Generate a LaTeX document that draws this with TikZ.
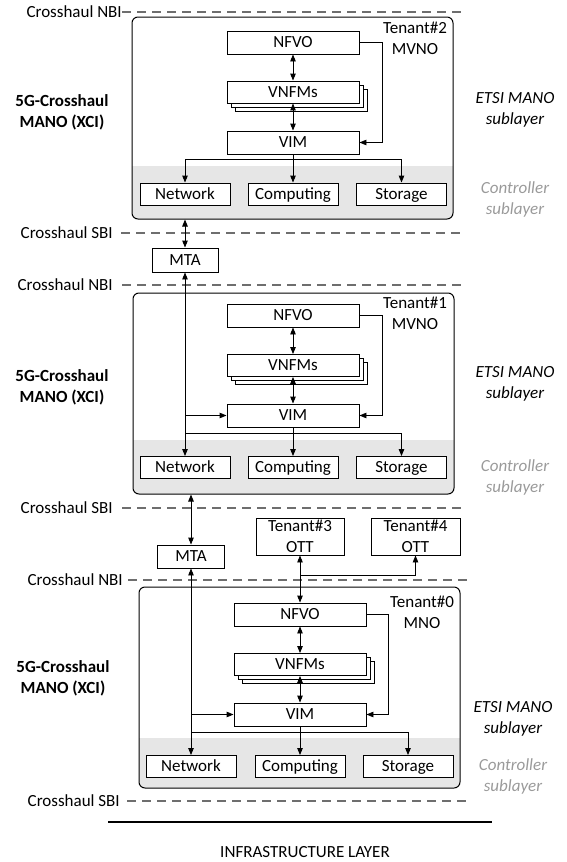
\documentclass[tikz,border=0pt]{standalone}
\usepackage{fontspec}
\setmainfont{Carlito}
\usetikzlibrary{arrows.meta,calc}
\definecolor{ctrlgray}{HTML}{E6E6E6}
\definecolor{dashgray}{HTML}{6E6E6E}
\definecolor{subgray}{HTML}{9A9A9A}
\newcommand\fs{\fontsize{17}{21}\selectfont}
\tikzset{
 blk/.style={draw, fill=white, line width=0.9pt, inner sep=0pt, minimum width=132pt, minimum height=23pt, text height=10.5pt, text depth=0pt},
 sbox/.style={draw, fill=white, line width=0.9pt, inner sep=0pt, minimum width=90pt, minimum height=22pt, text height=10.5pt, text depth=0pt},
 tbox/.style={draw, fill=white, line width=0.9pt, inner sep=0pt, align=center, minimum height=37pt},
 stackbox/.style={draw, fill=white, line width=0.9pt},
 outerbox/.style={draw, line width=1pt, rounded corners=6pt, inner sep=0pt, minimum width=321pt},
 dline/.style={draw=dashgray, line width=1.1pt, dash pattern=on 9pt off 6pt},
 conn/.style={line width=0.9pt, -{Triangle[length=7pt,width=5.5pt]}},
 dconn/.style={line width=0.9pt, {Triangle[length=7pt,width=5.5pt]}-{Triangle[length=7pt,width=5.5pt]}},
 plain/.style={line width=0.9pt},
 lbl/.style={inner sep=0pt, anchor=east, text height=10.5pt, text depth=0pt},
 side/.style={align=center, inner sep=0pt},
 bsid/.style={side, font=\fs\bfseries},
 isid/.style={side, font=\fs\itshape},
 csid/.style={side, font=\fs\itshape, text=subgray},
}
\begin{document}
\begin{tikzpicture}[x=1pt,y=-1pt,font=\fs]
\useasboundingbox (0,0) rectangle (567,862);

% ---------------- Block 1 (Tenant#2) ----------------
\node[lbl] (nbi1) at (122,12) {Crosshaul NBI};
\coordinate (nbi1e) at (463,12);
\draw[dline] (nbi1.east) -- (nbi1e);

\begin{scope}
\clip[rounded corners=6pt] (132,17) rectangle (453,219);
\fill[ctrlgray] (132,166) rectangle (453,219);
\end{scope}
\node[outerbox, minimum height=202pt] (blk1) at (292.5,118) {};

\node[blk] (nfvo1) at (293,42.5) {NFVO};
\path[stackbox] (235,89) rectangle (367,111);
\path[stackbox] (231,85) rectangle (363,107);
\node[blk, minimum height=22pt] (vnfm1) at (293,92) {VNFMs};
\node[blk] (vim1) at (293,142.5) {VIM};
\node[sbox] (net1) at (185,194) {Network};
\node[sbox] (comp1) at (293,194) {Computing};
\node[sbox] (sto1) at (401.5,194) {Storage};

\draw[dconn] (nfvo1) -- (vnfm1);
\draw[dconn] (vnfm1) -- (vim1);
\draw[conn] (nfvo1.east) -- ++(23,0) |- (vim1.east);
\draw[conn] (vim1) -- (comp1);
\coordinate (br1) at (293,159);
\draw[conn] (br1) -| (net1.north);
\draw[conn] (br1) -| (sto1.north);

\node[side] (ten2) at (415,38.5) {Tenant\#2\\MVNO};
\node[bsid] (xci1) at (62,112.5) {5G-Crosshaul\\MANO (XCI)};
\node[isid] (etsi1) at (515,109.5) {ETSI MANO\\sublayer};
\node[csid] (ctl1) at (515,199) {Controller\\sublayer};

\node[lbl] (sbi1) at (113,233) {Crosshaul SBI};
\coordinate (sbi1e) at (463,233);
\draw[dline] ($(sbi1.east)+(8,0)$) -- (sbi1e);

\node[sbox, minimum width=66pt, minimum height=24pt] (mta1) at (185,260) {MTA};
\draw[dconn] (blk1.south -| mta1.north) -- (mta1.north);

\node[lbl] (nbi2) at (113,285) {Crosshaul NBI};
\coordinate (nbi2e) at (463,285);
\draw[dline] ($(nbi2.east)+(9,0)$) -- (nbi2e);

% ---------------- Block 2 (Tenant#1) ----------------
\begin{scope}
\clip[rounded corners=6pt] (133,293) rectangle (454,494);
\fill[ctrlgray] (133,440) rectangle (454,494);
\end{scope}
\node[outerbox, minimum height=201pt] (blk2) at (293.5,393.5) {};

\node[blk] (nfvo2) at (293,315.5) {NFVO};
\path[stackbox] (235,362.5) rectangle (367,384.5);
\path[stackbox] (231,358.5) rectangle (363,380.5);
\node[blk, minimum height=22pt] (vnfm2) at (293,365.5) {VNFMs};
\node[blk] (vim2) at (293,415.5) {VIM};
\node[sbox] (net2) at (185,467.5) {Network};
\node[sbox] (comp2) at (293,467.5) {Computing};
\node[sbox] (sto2) at (401.5,467.5) {Storage};

\draw[dconn] (nfvo2) -- (vnfm2);
\draw[dconn] (vnfm2) -- (vim2);
\draw[conn] (nfvo2.east) -- ++(23,0) |- (vim2.east);
\draw[conn] (vim2) -- (comp2);
\coordinate (br2) at (293,433);
\draw[conn] (br2) -| (sto2.north);
\draw[plain] (br2) -- (br2 -| net2.north);
\draw[dconn] (mta1.south) -- (net2.north);
\draw[conn] (mta1.south |- vim2.west) -- (vim2.west);

\node[side] (ten1) at (415,313) {Tenant\#1\\MVNO};
\node[bsid] (xci2) at (62,387.5) {5G-Crosshaul\\MANO (XCI)};
\node[isid] (etsi2) at (515,383.5) {ETSI MANO\\sublayer};
\node[csid] (ctl2) at (515,477.5) {Controller\\sublayer};

\node[lbl] (sbi2) at (113,508) {Crosshaul SBI};
\coordinate (sbi2e) at (462,508);
\draw[dline] ($(sbi2.east)+(9,0)$) -- (sbi2e);

\node[sbox, minimum width=67pt, minimum height=23pt] (mta2) at (191,556.5) {MTA};
\draw[dconn] (blk2.south -| mta2.north) -- (mta2.north);

\node[tbox, minimum width=88pt] (t3) at (300,536.5) {Tenant\#3\\OTT};
\node[tbox, minimum width=89pt] (t4) at (415.5,536.5) {Tenant\#4\\OTT};

\node[lbl] (nbi3) at (123,580) {Crosshaul NBI};
\coordinate (nbi3e) at (467,580);
\draw[dline] ($(nbi3.east)+(5,0)$) -- (nbi3e);

% ---------------- Block 3 (Tenant#0) ----------------
\begin{scope}
\clip[rounded corners=6pt] (139,587) rectangle (460,788);
\fill[ctrlgray] (139,738) rectangle (460,788);
\end{scope}
\node[outerbox, minimum height=201pt] (blk3) at (299.5,687.5) {};

\node[blk] (nfvo3) at (300,614.5) {NFVO};
\path[stackbox] (242,661.5) rectangle (374,683.5);
\path[stackbox] (238,657.5) rectangle (370,679.5);
\node[blk, minimum height=22pt] (vnfm3) at (300,664.5) {VNFMs};
\node[blk] (vim3) at (300,714.5) {VIM};
\node[sbox] (net3) at (191,766.5) {Network};
\node[sbox] (comp3) at (300,766.5) {Computing};
\node[sbox] (sto3) at (408,766.5) {Storage};

\draw[dconn] (t3.south) -- (nfvo3.north);
\coordinate (tb) at (300,575);
\draw[conn] (tb) -| (t4.south);

\draw[dconn] (nfvo3) -- (vnfm3);
\draw[dconn] (vnfm3) -- (vim3);
\draw[conn] (nfvo3.east) -- ++(22,0) |- (vim3.east);
\draw[conn] (vim3) -- (comp3);
\coordinate (br3) at (300,732);
\draw[conn] (br3) -| (sto3.north);
\draw[plain] (br3) -- (br3 -| net3.north);
\draw[dconn] (mta2.south) -- (net3.north);
\draw[conn] (mta2.south |- vim3.west) -- (vim3.west);

\node[side] (ten0) at (422,612) {Tenant\#0\\MNO};
\node[bsid] (xci3) at (63,678) {5G-Crosshaul\\MANO (XCI)};
\node[isid] (etsi3) at (513,719) {ETSI MANO\\sublayer};
\node[csid] (ctl3) at (513,776.5) {Controller\\sublayer};

\node[lbl] (sbi3) at (120,801) {Crosshaul SBI};
\coordinate (sbi3e) at (467,801);
\draw[dline] ($(sbi3.east)+(7,0)$) -- (sbi3e);

\coordinate (infl) at (108,822);
\coordinate (infr) at (492,822);
\draw[line width=1.6pt] (infl) -- (infr);
\node[side] (infra) at (305,852) {INFRASTRUCTURE LAYER};
\end{tikzpicture}
\end{document}
